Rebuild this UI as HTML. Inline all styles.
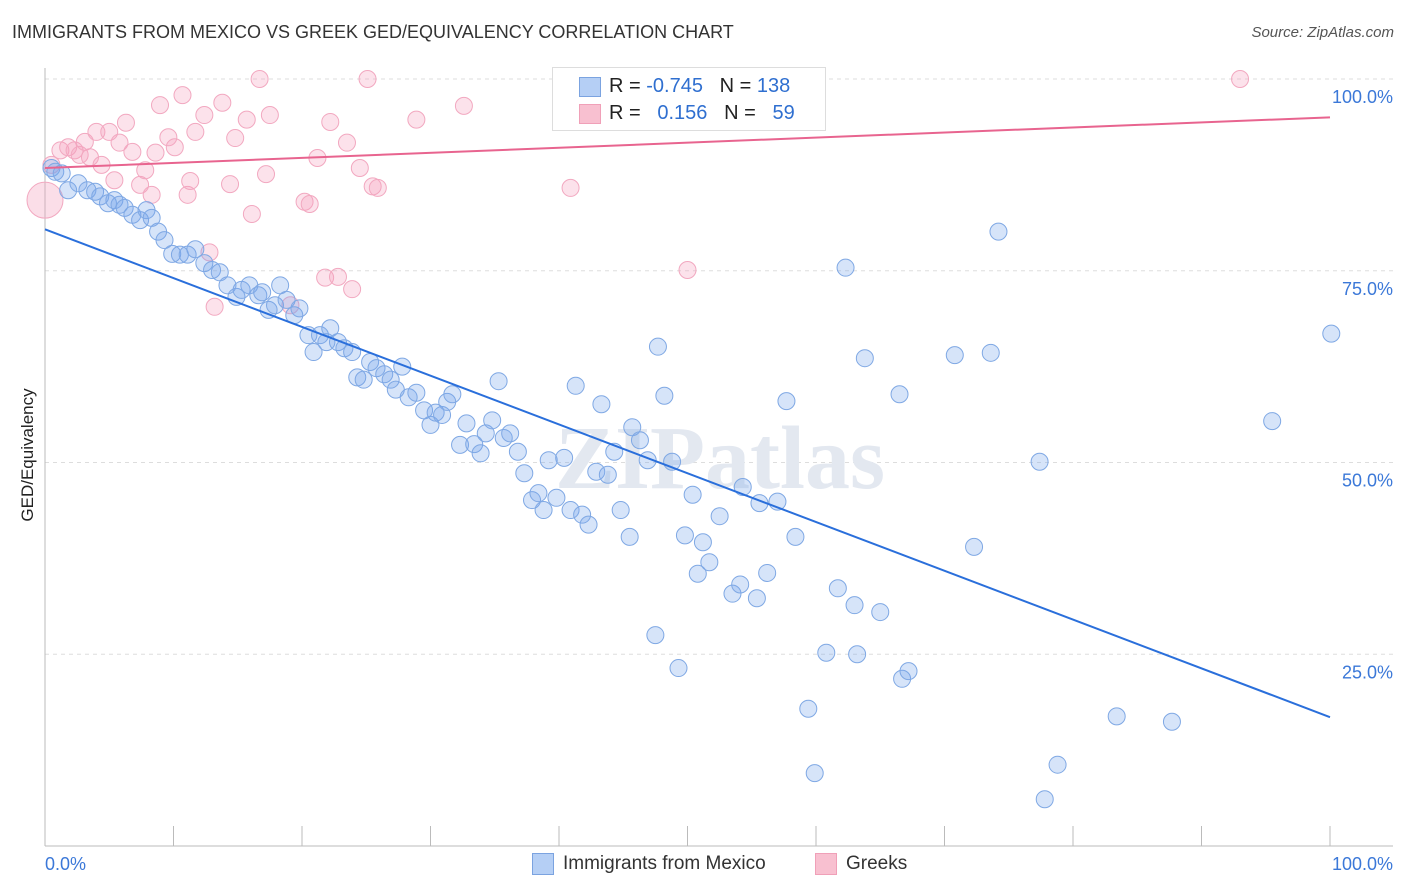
<!DOCTYPE html>
<html><head><meta charset="utf-8">
<style>
body{margin:0;background:#fff;font-family:"Liberation Sans",sans-serif;}
#wrap{position:relative;width:1406px;height:892px;overflow:hidden;}
.t{position:absolute;white-space:nowrap;}
</style></head>
<body>
<div id="wrap">
<div class="t" style="left:12px;top:22px;font-size:18px;color:#333;">IMMIGRANTS FROM MEXICO VS GREEK GED/EQUIVALENCY CORRELATION CHART</div>
<div class="t" style="right:12px;top:24px;font-size:15px;color:#555;font-style:italic;">Source: ZipAtlas.com</div>
<svg id="chart" width="1406" height="892" style="position:absolute;left:0;top:0"></svg>
<div class="t" style="left:18px;top:455px;font-size:17px;color:#222;transform:translate(-50%,-50%) rotate(-90deg);transform-origin:center;left:28px;">GED/Equivalency</div>
<div style="position:absolute;left:552px;top:67px;width:272px;height:62px;border:1px solid #ddd;background:#fff;">
  <div style="position:absolute;left:26px;top:9px;width:20px;height:18px;background:#b5cff5;border:1px solid #7ba3e0;"></div>
  <div class="t" style="left:56px;top:7px;font-size:20px;color:#222;">R = <span style="color:#2f6fd0">-0.745</span>&nbsp;&nbsp;&nbsp;N = <span style="color:#2f6fd0">138</span></div>
  <div style="position:absolute;left:26px;top:36px;width:20px;height:18px;background:#f8c0d0;border:1px solid #f0a0b8;"></div>
  <div class="t" style="left:56px;top:34px;font-size:20px;color:#222;">R = &nbsp;&nbsp;<span style="color:#2f6fd0">0.156</span>&nbsp;&nbsp;&nbsp;N = &nbsp;&nbsp;<span style="color:#2f6fd0">59</span></div>
</div>
<div style="position:absolute;left:532px;top:853px;width:20px;height:20px;background:#b5cff5;border:1px solid #7ba3e0;"></div>
<div class="t" style="left:563px;top:853px;font-size:19px;color:#333;">Immigrants from Mexico</div>
<div style="position:absolute;left:815px;top:853px;width:20px;height:20px;background:#f8c0d0;border:1px solid #f0a0b8;"></div>
<div class="t" style="left:846px;top:853px;font-size:19px;color:#333;">Greeks</div>
</div>
<script>
const blueX=[0.5,0.8,1.3,1.8,2.6,3.3,3.9,4.3,4.9,5.4,5.8,6.2,6.8,7.4,7.9,8.3,8.8,9.3,9.9,10.5,11.1,11.7,12.4,13.0,13.6,14.2,14.9,15.3,15.9,16.6,16.9,17.4,17.9,18.3,18.8,19.4,19.8,20.5,20.9,21.4,21.9,22.2,22.8,23.3,23.9,24.3,24.8,25.3,25.8,26.4,26.9,27.3,27.8,28.3,28.9,29.5,30.0,30.4,30.9,31.3,31.7,32.3,32.8,33.4,33.9,34.3,34.8,35.3,35.7,36.2,36.8,37.3,37.9,38.4,38.8,39.2,39.8,40.4,40.9,41.3,41.8,42.3,42.9,43.3,43.8,44.3,44.8,45.5,45.7,46.3,46.9,47.5,47.7,48.2,48.8,49.3,49.8,50.4,50.8,51.2,51.7,52.5,53.5,54.1,54.3,55.4,55.6,56.2,57.0,57.7,58.4,59.4,59.9,60.8,61.7,62.3,63.0,63.2,63.8,65.0,66.5,66.7,67.2,72.3,70.8,73.6,74.2,77.4,77.8,78.8,83.4,87.7,95.5,100.1];
const blueY=[88.4,87.9,87.7,85.5,86.4,85.5,85.3,84.7,83.8,84.2,83.6,83.2,82.3,81.6,82.9,81.9,80.1,79.0,77.2,77.1,77.1,77.8,76.0,75.1,74.8,73.1,71.6,72.5,73.1,71.8,72.2,69.9,70.5,73.1,71.2,69.2,70.1,66.6,64.4,66.6,65.7,67.5,65.7,64.9,64.4,61.1,60.8,63.1,62.3,61.5,60.8,59.5,62.5,58.5,59.1,56.8,54.9,56.5,56.2,57.9,58.9,52.3,55.1,52.4,51.2,53.8,55.5,60.6,53.2,53.8,51.4,48.6,45.1,46.0,43.8,50.3,45.4,50.6,43.8,60.0,43.2,41.9,48.8,57.6,48.4,51.4,43.8,40.3,54.6,52.9,50.3,27.5,65.1,58.7,50.1,23.2,40.5,45.8,35.5,39.6,37.0,43.0,32.9,34.1,46.8,32.3,44.7,35.6,44.9,58.0,40.3,17.9,9.5,25.2,33.6,75.4,31.4,25.0,63.6,30.5,58.9,21.8,22.8,39.0,64.0,64.3,80.1,50.1,6.1,10.6,16.9,16.2,55.4,66.8];
const pinkX=[0.5,1.2,1.8,2.3,2.7,3.1,3.5,4.0,4.4,5.0,5.4,5.8,6.3,6.8,7.4,7.8,8.3,8.6,8.95,9.6,10.1,10.7,11.1,11.3,11.7,12.4,12.8,13.2,13.8,14.4,14.8,15.7,16.1,16.7,17.2,17.5,19.1,21.2,20.2,20.6,21.8,22.2,22.8,23.5,23.9,24.5,25.1,25.5,25.9,28.9,32.6,40.9,50.0,93.0,56.4];
const pinkY=[88.8,90.7,91.1,90.7,90.1,91.8,89.8,93.1,88.8,93.1,86.8,91.7,94.3,90.5,86.2,88.1,84.9,90.4,96.6,92.4,91.1,97.9,84.9,86.7,93.1,95.3,77.4,70.3,96.9,86.3,92.3,94.7,82.4,100.0,87.6,95.3,70.5,89.7,84.0,83.7,74.1,94.4,74.2,91.7,72.6,88.4,100.0,86.0,85.8,94.7,96.5,85.8,75.1,100.0,100.0];
const blueLine=[80.4,16.8];
const pinkLine=[88.4,95.0];
const yTicks=[100,75,50,25];
const yTickLabels=["100.0%","75.0%","50.0%","25.0%"];
const xTicks=[10,20,30,40,50,60,70,80,90,100];
const NS="http://www.w3.org/2000/svg";
const svg=document.getElementById('chart');
const X=v=>45+v*12.85, Y=v=>846-v*7.67;
function mk(t,a){const e=document.createElementNS(NS,t);for(const k in a)e.setAttribute(k,a[k]);svg.appendChild(e);return e;}
yTicks.forEach((v,i)=>{
  const g=mk('line',{x1:45,x2:1393,y1:Y(v),y2:Y(v),stroke:'#ddd','stroke-dasharray':'4,4'});
  
  
  const t=mk('text',{x:1393,y:Y(v)+24,'text-anchor':'end','font-size':18,fill:'#3b78d8','font-family':'Liberation Sans'});
  t.textContent=yTickLabels[i];
  
  
});
const ax=mk('line',{x1:45,x2:1393,y1:846,y2:846,stroke:'#bbb'});


const ay=mk('line',{x1:45,x2:45,y1:68,y2:846,stroke:'#bbb'});


xTicks.forEach(v=>{
  const l=mk('line',{x1:X(v),x2:X(v),y1:826,y2:846,stroke:'#bbb'});
  
  
});
[[0,'start',45,'0.0%'],[100,'end',1393,'100.0%']].forEach(a=>{
  const t=mk('text',{x:a[2],y:870,'text-anchor':a[1],'font-size':18,fill:'#3b78d8','font-family':'Liberation Sans'});
  t.textContent=a[3];
  
  
});
const wm=mk('text',{x:720,y:488,'text-anchor':'middle','font-size':90,fill:'#e3e8f0','font-family':'Liberation Serif','font-weight':'bold'});
wm.textContent='ZIPatlas';


const big=mk('circle',{cx:X(0),cy:Y(84.2),r:18,fill:'rgba(244,160,188,0.35)',stroke:'#f2a8c0'});


pinkX.forEach((x,i)=>{
  const c=mk('circle',{cx:X(x),cy:Y(pinkY[i]),r:8.5,fill:'rgba(244,160,188,0.3)',stroke:'#f2a8c0','stroke-width':1});
  
  
});
blueX.forEach((x,i)=>{
  const c=mk('circle',{cx:X(x),cy:Y(blueY[i]),r:8.5,fill:'rgba(120,165,235,0.3)',stroke:'#7fa8e4','stroke-width':1});
  
  
});
const bl=mk('line',{x1:X(0),x2:X(100),y1:Y(blueLine[0]),y2:Y(blueLine[1]),stroke:'#2a6fdb','stroke-width':2});


const pl=mk('line',{x1:X(0),x2:X(100),y1:Y(pinkLine[0]),y2:Y(pinkLine[1]),stroke:'#e8648f','stroke-width':2});


</script>
</body></html>
